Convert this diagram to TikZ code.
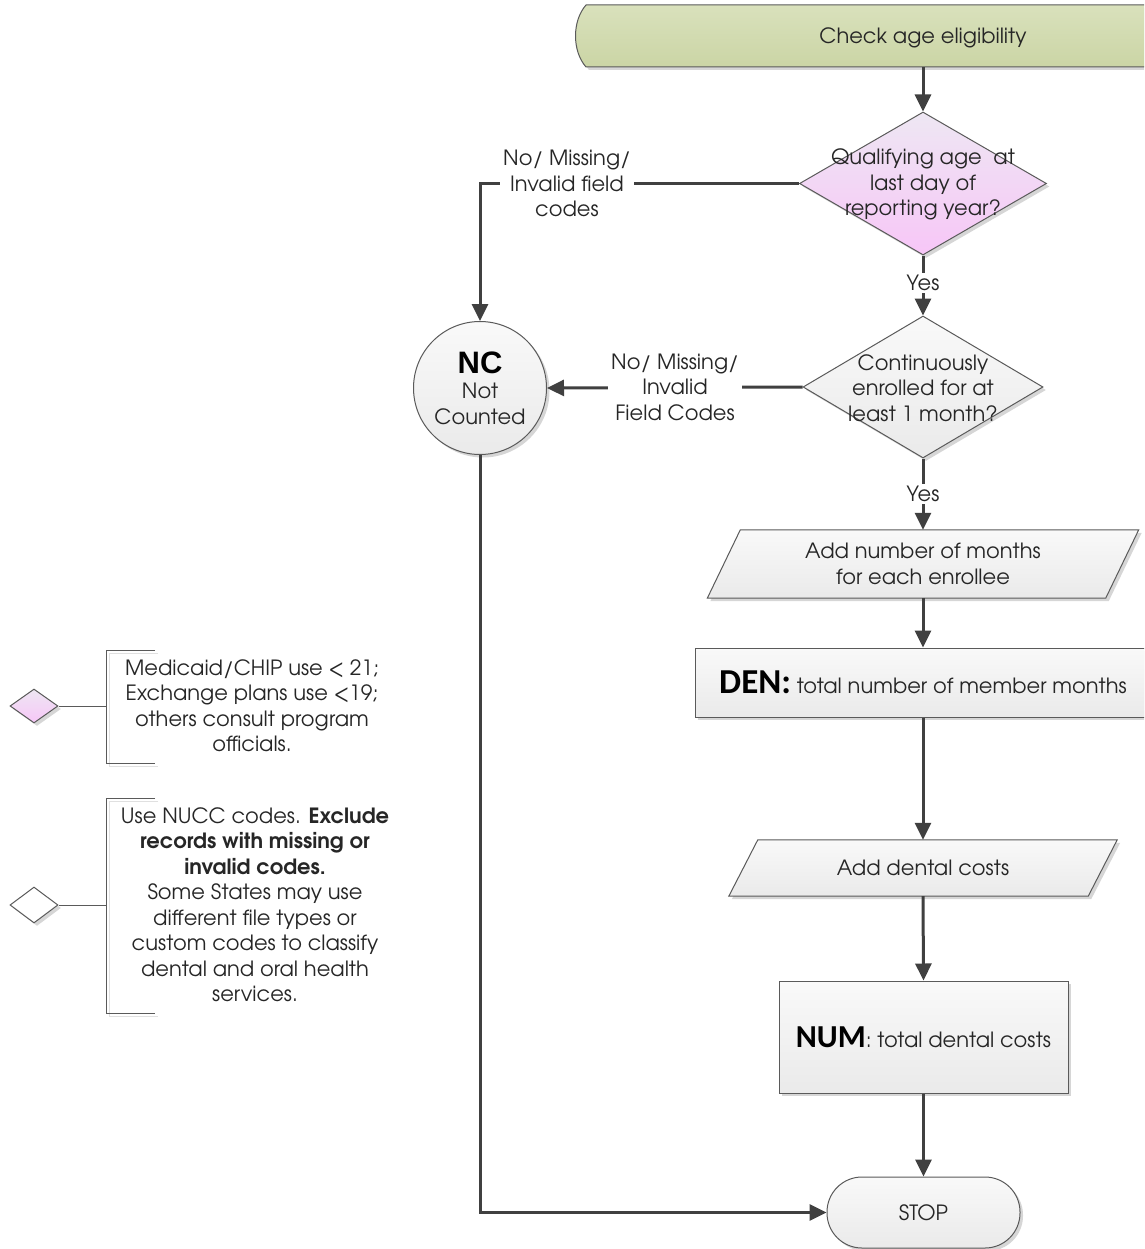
\documentclass[tikz,border=0pt]{standalone}
\usepackage{fontspec}
\setmainfont{TeX Gyre Adventor}
\newfontfamily\calibrif{Carlito}
\newfontfamily\arialf{Liberation Sans}
\usetikzlibrary{shapes.geometric, arrows.meta, shadows, calc}
\pgfdeclarelayer{background}
\pgfsetlayers{background,main}
\definecolor{lc}{HTML}{404040}
\definecolor{bc}{HTML}{5A5A5A}
\definecolor{graytop}{HTML}{F9F9F9}
\definecolor{graybot}{HTML}{EAEAEA}
\definecolor{greentop}{HTML}{D9E1BC}
\definecolor{greenbot}{HTML}{CBD5A5}
\definecolor{pinktop}{HTML}{EEE7F3}
\definecolor{pinkbot}{HTML}{F7C6F7}
\begin{document}
\begin{tikzpicture}[x=1pt,y=-1pt,
  font=\fontsize{21}{25.5}\selectfont,
  conn/.style={draw=lc, line width=3pt, -{Triangle[length=17pt,width=16pt]}},
  plain/.style={draw=lc, line width=3pt},
  shd/.style={drop shadow={shadow xshift=3pt, shadow yshift=-3pt, fill=black, opacity=0.16}},
  border/.style={draw=bc, line width=1pt},
  grayshape/.style={border, top color=graytop, bottom color=graybot, shd},
  pinkshape/.style={border, top color=pinktop, bottom color=pinkbot, shd},
  txt/.style={align=center, inner sep=0pt, text=black!85},
  lbl/.style={align=center, fill=white, inner sep=3pt, text=black!85},
  dia/.style={diamond, inner sep=0pt},
  bk/.style={draw=bc, line width=1pt},
]
\clip (0,0) rectangle (1144,1249);
\begin{pgfonlayer}{background}
\fill[white] (0,0) rectangle (1144,1249);
\end{pgfonlayer}

% start terminator
\path[border, top color=greentop, bottom color=greenbot, shd]
  (586,5) .. controls (572,21) and (572,51) .. (586,67) -- (1262,67)
  .. controls (1276,51) and (1276,21) .. (1262,5) -- cycle;
\node[txt, minimum height=58pt, minimum width=300pt] (start) at (923,38) {Check age eligibility};

% decision 1
\node[dia, pinkshape, minimum width=247pt, minimum height=143pt] (d1) at (923,183.5) {};
\node[txt] (d1t) at (923,184.5) {Qualifying age~ at\\last day of\\reporting year?};
\node[txt, inner sep=2pt] (yes1) at (923,283) {Yes};

% decision 2
\node[dia, grayshape, minimum width=240pt, minimum height=142pt] (d2) at (923,387) {};
\node[txt] (d2t) at (923,388) {Continuously\\enrolled for at\\least 1 month?};
\node[txt, inner sep=2pt] (yes2) at (923,494) {Yes};

% parallelogram 1
\node[txt, minimum width=398pt, minimum height=68pt] (p1) at (923,564) {Add number of months\\for each enrollee};
\begin{pgfonlayer}{background}
\path[grayshape] ($(p1.south west)+(-16.5,0)$) -- ($(p1.north west)+(16.5,0)$)
  -- ($(p1.north east)+(16.5,0)$) -- ($(p1.south east)+(-16.5,0)$) -- cycle;
\end{pgfonlayer}

% DEN box
\node[grayshape, rectangle, minimum width=456pt, minimum height=69pt, inner sep=0pt, text=black!85] (den) at (923,682.5)
  {{\calibrif\bfseries\fontsize{35}{36}\selectfont\color{black} DEN:} total number of member months};

% parallelogram 2
\node[txt, minimum width=359pt, minimum height=56pt] (p2) at (923,868) {Add dental costs};
\begin{pgfonlayer}{background}
\path[grayshape] ($(p2.south west)+(-14.5,0)$) -- ($(p2.north west)+(14.5,0)$)
  -- ($(p2.north east)+(14.5,0)$) -- ($(p2.south east)+(-14.5,0)$) -- cycle;
\end{pgfonlayer}

% NUM box
\node[grayshape, rectangle, minimum width=289pt, minimum height=112pt, inner sep=0pt, text=black!85] (num) at (923.5,1037)
  {{\calibrif\bfseries\fontsize{32}{34}\selectfont\color{black}NUM}: total dental costs};

% STOP
\node[grayshape, rectangle, rounded corners=35pt, minimum width=193pt, minimum height=71pt, inner sep=0pt, text=black!85] (stop) at (923.5,1212.5) {STOP};

% NC circle
\node[grayshape, circle, minimum size=133pt, inner sep=0pt, align=center, text=black!85] (nc) at (480,388)
  {{\arialf\bfseries\fontsize{31}{31}\selectfont\color{black}NC}\\[0pt]Not\\Counted};

% connectors
\draw[conn] (start.south) -- (d1.north);
\draw[plain] (d1.south) -- (yes1.north);
\draw[conn] (yes1.south) -- (d2.north);
\draw[plain] (d2.south) -- (yes2.north);
\draw[conn] (yes2.south) -- (p1.north);
\draw[conn] (p1.south) -- (den.north);
\draw[conn] (den.south) -- (p2.north);
\draw[conn] (p2.south) -- (num.north);
\draw[conn] (num.south) -- (stop.north);
\draw[conn] (d1.west) -| (nc.north);
\node[lbl] (l1) at (567,183.5) {No/ Missing/\\Invalid field\\codes};
\draw[conn] (d2.west) -- (nc.east);
\node[lbl] (l2) at (675,387) {No/ Missing/\\Invalid\\Field Codes};
\draw[conn] (nc.south) |- (stop.west);

% legend 1
\node[dia, pinkshape, minimum width=48pt, minimum height=34pt] (g1) at (34,706) {};
\coordinate (b1) at (106,706);
\draw[bk] (g1.east) -- (b1);
\draw[draw=black!12, line width=1pt] (158,653) -- (109,653) -- (109,766) -- (158,766);
\draw[bk] (155,650) -- (106,650) -- (106,763) -- (155,763);
\node[txt] (n1) at (252,705.5) {Medicaid/CHIP use < 21;\\Exchange plans use <19;\\others consult program\\officials.};

% legend 2
\node[dia, border, fill=white, shd, minimum width=48pt, minimum height=36pt] (g2) at (34,905) {};
\coordinate (b2) at (106,905);
\draw[bk] (g2.east) -- (b2);
\draw[draw=black!12, line width=1pt] (158,801) -- (109,801) -- (109,1016) -- (158,1016);
\draw[bk] (155,798) -- (106,798) -- (106,1013) -- (155,1013);
\node[txt] (n2) at (255,904.5) {Use NUCC codes. \textbf{Exclude}\\\textbf{records with missing or}\\\textbf{invalid codes.}\\Some States may use\\different file types or\\custom codes to classify\\dental and oral health\\services.};
\end{tikzpicture}
\end{document}
